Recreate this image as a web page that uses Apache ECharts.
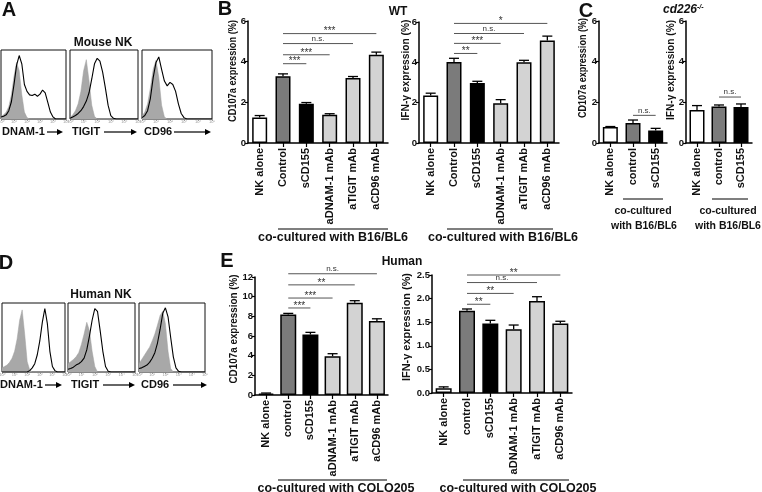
<!DOCTYPE html>
<html>
<head>
<meta charset="utf-8">
<script src="https://cdn.jsdelivr.net/npm/echarts@6/dist/echarts.min.js"></script>
<style>html,body{margin:0;padding:0;background:#fff}#c{width:762px;height:492px}</style>
</head>
<body>
<div id="c"></div>
<script>
// ---------------- DATA ----------------
// Flow-cytometry histograms (x = % of log scale width, y = % of max height)
const HX = [0,4,8,12,16,20,24,28,32,36,40,44,48,52,56,60,64,68,72,76,80,84,88,92,96,100];
const A_DNAM_ISO  = [4,6,10,18,35,62,82,70,35,10,2,0,0,0,0,0,0,0,0,0,0,0,0,0,0,0];
const A_DNAM_STN  = [3,4,6,12,25,50,78,92,80,50,40,35,34,36,33,36,42,38,24,10,3,0,0,0,0,0];
const A_TIGIT_ISO = [2,6,12,22,40,70,86,55,20,4,0,0,0,0,0,0,0,0,0,0,0,0,0,0,0,0];
const A_TIGIT_STN = [1,3,5,8,12,18,26,38,58,80,88,84,68,45,20,5,1,0,0,0,0,0,0,0,0,0];
const A_CD96_ISO  = [4,10,22,45,72,85,60,20,3,0,0,0,0,0,0,0,0,0,0,0,0,0,0,0,0,0];
const A_CD96_STN  = [2,5,12,30,60,82,90,72,55,48,53,50,40,22,8,2,0,0,0,0,0,0,0,0,0,0];
const D_DNAM_ISO  = [6,8,10,14,20,30,48,75,90,55,15,3,0,0,0,0,0,0,0,0,0,0,0,0,0,0];
const D_DNAM_STN  = [0,0,0,0,0,0,0,0,0,0,0,2,6,12,25,45,72,92,70,30,8,2,0,0,0,0];
const D_TIGIT_ISO = [12,15,18,22,28,40,55,72,60,30,8,0,0,0,0,0,0,0,0,0,0,0,0,0,0,0];
const D_TIGIT_STN = [4,5,7,10,12,15,20,32,52,75,92,88,60,30,8,1,0,0,0,0,0,0,0,0,0,0];
const D_CD96_ISO  = [12,18,24,30,36,45,55,68,82,88,70,30,5,0,0,0,0,0,0,0,0,0,0,0,0,0];
const D_CD96_STN  = [5,6,8,10,14,20,28,42,62,85,93,80,50,22,6,1,0,0,0,0,0,0,0,0,0,0];
const HIST_TICKS = ['10⁰','10¹','10²','10³','10⁴','10⁵'];

// Panel B (WT mouse NK, co-cultured with B16/BL6)
const B_CATS = ['NK alone','Control','sCD155','aDNAM-1 mAb','aTIGIT mAb','aCD96 mAb'];
const B_CD107A     = [1.25, 3.28, 1.93, 1.39, 3.20, 4.34];
const B_CD107A_ERR = [0.10, 0.12, 0.06, 0.05, 0.07, 0.13];
const B_IFNG       = [2.36, 4.02, 2.98, 1.97, 4.00, 5.08];
const B_IFNG_ERR   = [0.11, 0.18, 0.08, 0.18, 0.10, 0.22];
const B_CD107A_SIG = [[1,3.90,2,'***'],[1,4.34,3,'***'],[1,4.89,4,'n.s.'],[1,5.38,5,'***']];
const B_IFNG_SIG   = [[1,4.44,2,'**'],[1,4.94,3,'***'],[1,5.43,4,'n.s.'],[1,5.93,5,'*']];

// Panel C (cd226-/- mouse NK)
const C_CATS = ['NK alone','control','sCD155'];
const C_CD107A     = [0.79, 0.98, 0.62];
const C_CD107A_ERR = [0.02, 0.15, 0.10];
const C_IFNG       = [1.62, 1.80, 1.77];
const C_IFNG_ERR   = [0.22, 0.07, 0.15];
const C_CD107A_SIG = [[1,1.36,2,'n.s.']];
const C_IFNG_SIG   = [[1,2.26,2,'n.s.']];

// Panel E (human NK, co-cultured with COLO205)
const E_CATS = ['NK alone','control','sCD155','aDNAM-1 mAb','aTIGIT mAb','aCD96 mAb'];
const E_CD107A     = [0.15, 8.18, 6.15, 3.95, 9.39, 7.53];
const E_CD107A_ERR = [0.05, 0.12, 0.22, 0.25, 0.20, 0.22];
const E_IFNG       = [0.10, 1.74, 1.47, 1.35, 1.95, 1.47];
const E_IFNG_ERR   = [0.03, 0.04, 0.07, 0.09, 0.09, 0.05];
const E_CD107A_SIG = [[1,8.85,2,'***'],[1,9.86,3,'***'],[1,11.2,4,'**'],[1,12.33,5,'n.s.']];
const E_IFNG_SIG   = [[1,1.88,2,'**'],[1,2.11,3,'**'],[1,2.34,4,'n.s.'],[1,2.50,5,'**']];

const TITLE_CD107A = 'CD107a expression (%)';
const TITLE_IFNG = 'IFN-γ expression (%)';

// ---------------- STYLE / LAYOUT ----------------
const FONT = '"Liberation Sans", Arial, Helvetica, sans-serif';
const WHITE = '#ffffff', DARK = '#7b7b7b', BLACK = '#000000', LIGHT = '#d3d3d3';
const COLORS6 = [WHITE, DARK, BLACK, LIGHT, LIGHT, LIGHT];
const COLORS3 = [WHITE, DARK, BLACK];

const HIST_GRIDS = [
  {left:1, top:50, width:65, height:69},
  {left:70, top:50, width:68, height:69},
  {left:142, top:50, width:70, height:69},
  {left:2, top:303, width:63, height:69},
  {left:68, top:303, width:67, height:69},
  {left:139, top:303, width:66, height:69}
];
const BAR_GRIDS = [
  {left:248, top:21, width:140, height:122},
  {left:419, top:22, width:140, height:121},
  {left:599, top:21, width:68, height:122},
  {left:686, top:21, width:66, height:122},
  {left:255, top:277, width:133, height:118},
  {left:432, top:275, width:140, height:118}
];

const grids = [], xAxes = [], yAxes = [], series = [];

function histPanel(gi, iso, stn) {
  const g = HIST_GRIDS[gi];
  grids.push(Object.assign({show:true, borderColor:'#111', borderWidth:1, backgroundColor:'#fff',
    containLabel:false, outerBoundsMode:'none'}, g));
  xAxes.push({gridIndex:gi, type:'value', min:0, max:100, interval:20,
    axisLine:{show:false}, splitLine:{show:false},
    axisTick:{show:true, length:2, lineStyle:{color:'#888', width:0.8}},
    axisLabel:{show:true, fontSize:4, color:'#999', margin:1, fontFamily:FONT,
      formatter:(v)=>HIST_TICKS[Math.round(v/20)]}});
  yAxes.push({gridIndex:gi, type:'value', min:0, max:100, show:false});
  series.push({type:'line', xAxisIndex:gi, yAxisIndex:gi, data:HX.map((x,i)=>[x, iso[i]]),
    showSymbol:false, symbol:'none', lineStyle:{width:0.5, color:'#a0a0a0'},
    areaStyle:{color:'#a8a8a8', opacity:1}, z:2, silent:true});
  series.push({type:'line', xAxisIndex:gi, yAxisIndex:gi, data:HX.map((x,i)=>[x, stn[i]]),
    showSymbol:false, symbol:'none', lineStyle:{width:1.1, color:'#000'}, z:3, silent:true});
}

function barPanel(bi, cats, vals, errs, colors, sig, yMax, yInt, fmt, barW) {
  const gi = grids.length;
  grids.push(Object.assign({show:false, containLabel:false, outerBoundsMode:'none'}, BAR_GRIDS[bi]));
  xAxes.push({gridIndex:gi, type:'category', data:cats,
    axisLine:{show:true, lineStyle:{color:'#000', width:1.5}},
    axisTick:{show:true, alignWithLabel:true, length:4, lineStyle:{color:'#000', width:1.2}},
    axisLabel:{rotate:90, fontSize:11, fontWeight:'bold', color:'#111', margin:5, fontFamily:FONT, interval:0},
    splitLine:{show:false}});
  yAxes.push({gridIndex:gi, type:'value', min:0, max:yMax, interval:yInt,
    splitLine:{show:false},
    axisLine:{show:true, lineStyle:{color:'#000', width:1.5}},
    axisTick:{show:true, length:3, lineStyle:{color:'#000', width:1.2}},
    axisLabel:{fontSize:9.5, fontWeight:'bold', color:'#111', margin:2, fontFamily:FONT, formatter:fmt}});
  series.push({type:'bar', xAxisIndex:gi, yAxisIndex:gi, data:vals, barWidth:barW,
    itemStyle:{color:(p)=>colors[p.dataIndex], borderColor:'#000', borderWidth:1.5}, z:2, silent:true});
  series.push({type:'custom', xAxisIndex:gi, yAxisIndex:gi, z:4, silent:true, clip:false,
    data:vals.map((v,i)=>[i, v, errs[i]]),
    renderItem:(params, api)=>{
      const base = api.coord([api.value(0), api.value(1)]);
      const top = api.coord([api.value(0), api.value(1)+api.value(2)]);
      return {type:'group', children:[
        {type:'line', shape:{x1:base[0], y1:base[1], x2:top[0], y2:top[1]}, style:{stroke:'#000', lineWidth:1.3}},
        {type:'line', shape:{x1:top[0]-5, y1:top[1], x2:top[0]+5, y2:top[1]}, style:{stroke:'#000', lineWidth:1.3}}
      ]};
    }});
  series.push({type:'custom', xAxisIndex:gi, yAxisIndex:gi, z:5, silent:true, clip:false,
    data:sig.map(s=>[s[0], s[1], s[2]]),
    renderItem:(params, api)=>{
      const p0 = api.coord([api.value(0), api.value(1)]);
      const p1 = api.coord([api.value(2), api.value(1)]);
      const lab = sig[params.dataIndex][3];
      const stars = lab.indexOf('*') >= 0;
      return {type:'group', children:[
        {type:'line', shape:{x1:p0[0], y1:p0[1], x2:p1[0], y2:p1[1]}, style:{stroke:'#555', lineWidth:1}},
        {type:'text', x:(p0[0]+p1[0])/2, y:p0[1] + (stars ? 3 : -1),
          style:{text:lab, fontSize:stars ? 10 : 8, fontFamily:FONT, fill:'#333',
            align:'center', verticalAlign:'bottom', textAlign:'center', textVerticalAlign:'bottom'}}
      ]};
    }});
}

histPanel(0, A_DNAM_ISO, A_DNAM_STN);
histPanel(1, A_TIGIT_ISO, A_TIGIT_STN);
histPanel(2, A_CD96_ISO, A_CD96_STN);
histPanel(3, D_DNAM_ISO, D_DNAM_STN);
histPanel(4, D_TIGIT_ISO, D_TIGIT_STN);
histPanel(5, D_CD96_ISO, D_CD96_STN);

const int = (v)=>String(v);
const dec = (v)=>v.toFixed(1);
barPanel(0, B_CATS, B_CD107A, B_CD107A_ERR, COLORS6, B_CD107A_SIG, 6, 2, int, 15);
barPanel(1, B_CATS, B_IFNG, B_IFNG_ERR, COLORS6, B_IFNG_SIG, 6, 2, int, 15);
barPanel(2, C_CATS, C_CD107A, C_CD107A_ERR, COLORS3, C_CD107A_SIG, 6, 2, int, 15);
barPanel(3, C_CATS, C_IFNG, C_IFNG_ERR, COLORS3, C_IFNG_SIG, 6, 2, int, 15);
barPanel(4, E_CATS, E_CD107A, E_CD107A_ERR, COLORS6, E_CD107A_SIG, 12, 2, int, 16);
barPanel(5, E_CATS, E_IFNG, E_IFNG_ERR, COLORS6, E_IFNG_SIG, 2.5, 0.5, dec, 16);

// ---------------- ANNOTATIONS ----------------
const mctx = document.createElement('canvas').getContext('2d');
function measure(text, size) { mctx.font = 'bold ' + size + 'px ' + FONT; return mctx.measureText(text).width; }
function txt(x, y, text, size, opts) {
  return {type:'text', x:x, y:y, silent:true, style:Object.assign({text:text, fontSize:size,
    fontWeight:'bold', fontFamily:FONT, fill:'#111', align:'center', verticalAlign:'middle',
    textAlign:'center', textVerticalAlign:'middle'}, (opts||{}))};
}
function ytitle(cx, cy, text, len, size) {
  const t = txt(cx, cy, text, size);
  t.rotation = Math.PI / 2;
  t.scaleX = len / measure(text, size);
  t.scaleY = 1;
  return t;
}
function hline(x1, x2, y, color, w) {
  return {type:'line', silent:true, shape:{x1:x1, y1:y, x2:x2, y2:y}, style:{stroke:color, lineWidth:w}};
}
function arrow(x1, x2, y) {
  return [hline(x1, x2-5, y, '#000', 1.2),
    {type:'polygon', silent:true, shape:{points:[[x2, y], [x2-6, y-3], [x2-6, y+3]]}, style:{fill:'#000'}}];
}
const L = {align:'left', textAlign:'left'};
const graphic = [
  txt(9, 10, 'A', 20), txt(225, 9, 'B', 20), txt(586, 11, 'C', 20), txt(6, 263, 'D', 20), txt(227, 261, 'E', 20),
  txt(103, 43, 'Mouse NK', 12), txt(101, 295, 'Human NK', 12),
  txt(398, 12, 'WT', 12), txt(402, 262, 'Human', 12),
  txt(663, 10, 'cd226', 12, {align:'left', textAlign:'left', fontStyle:'italic'}),
  txt(697, 7, '-/-', 7, {align:'left', textAlign:'left', fontStyle:'italic'}),
  ytitle(233, 71, TITLE_CD107A, 102, 11.5),
  ytitle(406, 70, TITLE_IFNG, 101, 11.5),
  ytitle(583, 68, TITLE_CD107A, 100, 11.5),
  ytitle(671, 70, TITLE_IFNG, 100, 11),
  ytitle(234, 329, TITLE_CD107A, 109, 11.5),
  ytitle(407, 327, TITLE_IFNG, 108, 11.5),
  txt(2, 132, 'DNAM-1', 11, L), ...arrow(47, 63, 132),
  txt(72, 132, 'TIGIT', 11, L), ...arrow(104, 137, 132),
  txt(144, 132, 'CD96', 11, L), ...arrow(174, 211, 132),
  txt(0, 385, 'DNAM-1', 11, L), ...arrow(45, 62, 385),
  txt(71, 385, 'TIGIT', 11, L), ...arrow(103, 135, 385),
  txt(141, 385, 'CD96', 11, L), ...arrow(173, 207, 385),
  hline(278, 388, 229, '#555', 1.5), txt(333, 238, 'co-cultured with B16/BL6', 12.5),
  hline(447, 553, 229, '#555', 1.5), txt(503, 238, 'co-cultured with B16/BL6', 12.5),
  hline(623, 663, 199, '#555', 1.5), txt(643, 211, 'co-cultured', 10.5), txt(644, 226, 'with B16/BL6', 10.5),
  hline(712, 748, 199, '#555', 1.5), txt(728, 211, 'co-cultured', 10.5), txt(728, 226, 'with B16/BL6', 10.5),
  hline(278, 387, 480, '#555', 1.5), txt(336, 489, 'co-cultured with COLO205', 12.5),
  hline(463, 569, 480, '#555', 1.5), txt(518, 489, 'co-cultured with COLO205', 12.5)
];

const chart = echarts.init(document.getElementById('c'), null, {renderer:'canvas'});
chart.setOption({
  animation:false,
  backgroundColor:'#fff',
  textStyle:{fontFamily:FONT},
  grid:grids, xAxis:xAxes, yAxis:yAxes, series:series, graphic:graphic
});
</script>
</body>
</html>
